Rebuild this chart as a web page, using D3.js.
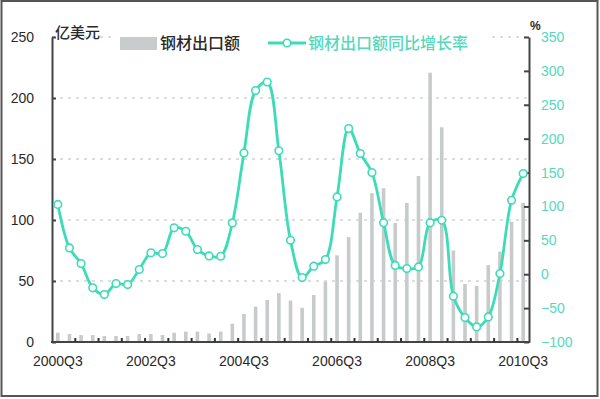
<!DOCTYPE html>
<html>
<head>
<meta charset="utf-8">
<script src="https://cdn.jsdelivr.net/npm/d3@7/dist/d3.min.js"></script>
<style>
html,body{margin:0;padding:0;background:#fff;}
svg{display:block;}
</style>
</head>
<body>
<svg id="chart" width="600" height="399"></svg>
<script>
const quarters = ["2000Q3","2000Q4","2001Q1","2001Q2","2001Q3","2001Q4","2002Q1","2002Q2","2002Q3","2002Q4",
"2003Q1","2003Q2","2003Q3","2003Q4","2004Q1","2004Q2","2004Q3","2004Q4","2005Q1","2005Q2",
"2005Q3","2005Q4","2006Q1","2006Q2","2006Q3","2006Q4","2007Q1","2007Q2","2007Q3","2007Q4",
"2008Q1","2008Q2","2008Q3","2008Q4","2009Q1","2009Q2","2009Q3","2009Q4","2010Q1","2010Q2","2010Q3"];
const exportValue = [7.6,6.5,5.7,5.7,4.9,4.9,4.9,6.5,6.5,5.7,7.6,8.5,8.5,7,8.5,15,23,29,34.4,40,
34,28,38.5,49.5,71,86,106,122,126,97.5,114,136,220.7,176,75,47.5,46,63,74,98.6,114];
const growthRate = [103,38.8,15.7,-20,-30,-13.8,-15.3,7,31.5,30.5,68.4,63.4,36.4,27,26.5,75.7,179,271,283.6,182,
50,-5,11.8,21.6,114,215,178,150,76,13,8.4,10.8,76,79.6,-32.4,-64,-77.7,-63,1,109,148.5];
const leftTicks = [0,50,100,150,200,250];
const rightTicks = [-100,-50,0,50,100,150,200,250,300,350];
const xLabels = ["2000Q3","2002Q3","2004Q3","2006Q3","2008Q3","2010Q3"];
const barLegend = "钢材出口额";
const lineLegend = "钢材出口额同比增长率";
const leftUnit = "亿美元";
const rightUnit = "%";

const svg = d3.select("#chart");
const teal = "#3ddcb8";
const tealText = "#55d8bb";
const dark = "#2a2a2a";
const numFont = "'Liberation Sans', Arial, sans-serif";
const cjkFont = "'Noto Sans CJK SC', sans-serif";

const x = d3.scaleBand().domain(quarters).range([52, 529]).paddingInner(0).paddingOuter(0);
const yL = d3.scaleLinear().domain([0, 250]).range([342, 37]);
const yR = d3.scaleLinear().domain([-100, 350]).range([342, 37]);
const cx = q => x(q) + x.bandwidth() / 2;

// frame
svg.append("rect").attr("x", 1.5).attr("y", 1).attr("width", 596).attr("height", 395)
  .attr("fill", "#fff").attr("stroke", "#555").attr("stroke-width", 2);

// gridlines
svg.append("g").selectAll("line").data(leftTicks.filter(d => d > 0)).join("line")
  .attr("x1", 52).attr("x2", 529)
  .attr("y1", d => yL(d)).attr("y2", d => yL(d))
  .attr("stroke", "#bbb").attr("stroke-width", 1).attr("stroke-dasharray", "3,5");

// bars
svg.append("g").selectAll("rect").data(quarters).join("rect")
  .attr("x", (q) => cx(q) - 1.8)
  .attr("width", 3.6)
  .attr("y", (q, i) => yL(exportValue[i]))
  .attr("height", (q, i) => yL(0) - yL(exportValue[i]))
  .attr("fill", "#c8cbcb");

// left axis
const gL = svg.append("g").attr("transform", "translate(52,0)");
gL.call(d3.axisLeft(yL).tickValues(leftTicks).tickSize(-4).tickPadding(18).tickSizeOuter(0));
gL.select(".domain").attr("stroke", "#444").attr("stroke-width", 2);
gL.selectAll(".tick line").attr("stroke", "#444").attr("stroke-width", 2);
gL.selectAll(".tick text").attr("font-family", numFont).attr("font-size", 14).attr("fill", dark);

// right axis
const gR = svg.append("g").attr("transform", "translate(529,0)");
gR.call(d3.axisRight(yR).tickValues(rightTicks).tickSize(-5).tickPadding(12).tickSizeOuter(0));
gR.select(".domain").attr("stroke", "#444").attr("stroke-width", 2);
gR.selectAll(".tick line").attr("stroke", "#444").attr("stroke-width", 2);
gR.selectAll(".tick text").attr("font-family", numFont).attr("font-size", 14).attr("fill", tealText);

// bottom axis
const gB = svg.append("g").attr("transform", "translate(0,342)");
gB.append("line").attr("x1", 51).attr("x2", 530).attr("y1", 0).attr("y2", 0)
  .attr("stroke", "#444").attr("stroke-width", 2);
gB.selectAll("line.tk").data(quarters.filter((q, i) => i % 2 === 0 && i > 0)).join("line")
  .attr("class", "tk")
  .attr("x1", q => x(q)).attr("x2", q => x(q)).attr("y1", 0).attr("y2", -4)
  .attr("stroke", "#333").attr("stroke-width", 2);
gB.selectAll("text").data(xLabels).join("text")
  .attr("x", q => cx(q)).attr("y", 24)
  .attr("text-anchor", "middle")
  .attr("font-family", numFont).attr("font-size", 14).attr("fill", dark)
  .text(d => d);

// line
const line = d3.line().x((d, i) => cx(quarters[i])).y(d => yR(d)).curve(d3.curveCatmullRom.alpha(0.5));
svg.append("path").datum(growthRate).attr("d", line)
  .attr("fill", "none").attr("stroke", teal).attr("stroke-width", 2.8).attr("stroke-linejoin", "round");
svg.append("g").selectAll("circle").data(growthRate).join("circle")
  .attr("cx", (d, i) => cx(quarters[i])).attr("cy", d => yR(d)).attr("r", 3.8)
  .attr("fill", "#fff").attr("stroke", teal).attr("stroke-width", 1.6);

// units
svg.append("text").attr("x", 55).attr("y", 38).attr("font-family", cjkFont)
  .attr("font-size", 15).attr("font-weight", 500).attr("fill", dark).text(leftUnit);
svg.append("text").attr("x", 530).attr("y", 30).attr("font-family", numFont)
  .attr("font-size", 12).attr("font-weight", "bold").attr("fill", dark).text(rightUnit);

// legend
const lg = svg.append("g");
lg.append("rect").attr("x", 112).attr("y", 27).attr("width", 378).attr("height", 30).attr("fill", "#fff");
lg.append("rect").attr("x", 120).attr("y", 37).attr("width", 37).attr("height", 13).attr("fill", "#c8cccc");
lg.append("text").attr("x", 160).attr("y", 49).attr("font-family", cjkFont).attr("font-size", 16)
  .attr("font-weight", 500).attr("fill", dark).text(barLegend);
lg.append("line").attr("x1", 268).attr("x2", 306).attr("y1", 43).attr("y2", 43)
  .attr("stroke", teal).attr("stroke-width", 2.8);
lg.append("circle").attr("cx", 287).attr("cy", 43).attr("r", 3.8)
  .attr("fill", "#fff").attr("stroke", teal).attr("stroke-width", 1.6);
lg.append("text").attr("x", 308).attr("y", 49).attr("font-family", cjkFont).attr("font-size", 16)
  .attr("font-weight", 500).attr("fill", tealText).text(lineLegend);
</script>
</body>
</html>
